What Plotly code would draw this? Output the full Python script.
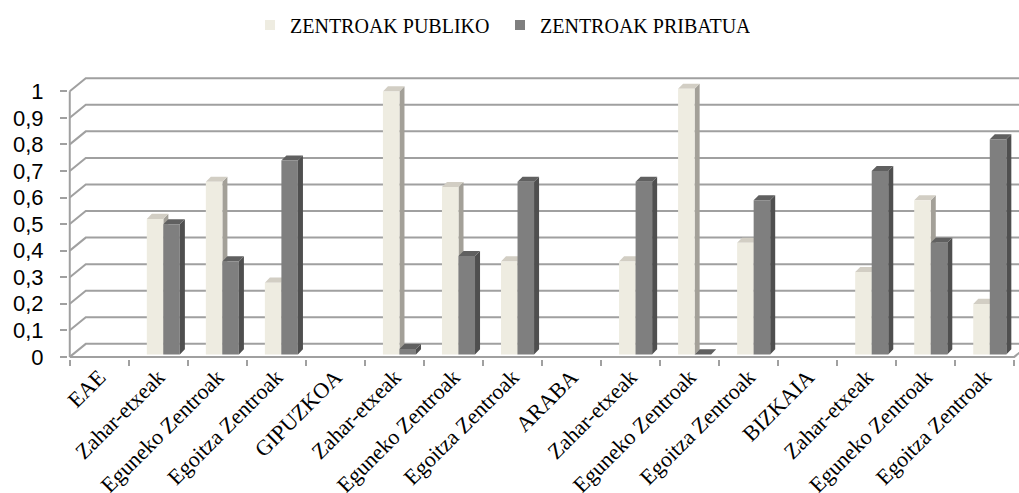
import plotly.graph_objects as go

# Categories along the x axis (region headers followed by centre types)
categories = [
    "EAE", "Zahar-etxeak", "Eguneko Zentroak", "Egoitza Zentroak",
    "GIPUZKOA", "Zahar-etxeak", "Eguneko Zentroak", "Egoitza Zentroak",
    "ARABA", "Zahar-etxeak", "Eguneko Zentroak", "Egoitza Zentroak",
    "BIZKAIA", "Zahar-etxeak", "Eguneko Zentroak", "Egoitza Zentroak",
]

# Share of public and private centres (None = region header, no bar)
publiko = [None, 0.51, 0.65, 0.27,
           None, 0.99, 0.63, 0.35,
           None, 0.35, 1.00, 0.42,
           None, 0.31, 0.58, 0.19]
pribatua = [None, 0.49, 0.35, 0.73,
            None, 0.02, 0.37, 0.65,
            None, 0.65, 0.00, 0.58,
            None, 0.69, 0.42, 0.81]

y_ticks = [0, 0.1, 0.2, 0.3, 0.4, 0.5, 0.6, 0.7, 0.8, 0.9, 1]
y_tick_labels = ["0", "0,1", "0,2", "0,3", "0,4", "0,5", "0,6", "0,7", "0,8", "0,9", "1"]

series_names = ["ZENTROAK PUBLIKO", "ZENTROAK PRIBATUA"]

# Pseudo-3D geometry in axis units
X_MIN, X_MAX = -0.53, 15.58
Y_MIN, Y_MAX = -0.008, 1.08
WALL_DX, WALL_DY = 0.271, 0.049      # depth of the back wall
BAR_SHIFT_X, BAR_BASE = 0.085, 0.0094  # bars sit slightly inside the floor
BAR_W = 0.28
BAR_DX, BAR_DY = 0.085, 0.019          # depth of each bar

# colours: front, side, top
PUB = ("#EEECE1", "#A3A098", "#D2CEC4")
PRIV = ("#7F7F7F", "#4F4F4F", "#606060")
GRID = "#A0A0A0"

n = len(categories)
fig = go.Figure()

# back wall gridlines with their diagonal side-wall connectors
gx, gy = [], []
for v in y_ticks:
    gx += [-0.5, -0.5 + WALL_DX, X_MAX + 1, None]
    gy += [v, v + WALL_DY, v + WALL_DY, None]
# front vertical axis, front floor edge and right floor edge
gx += [-0.5, -0.5, None, -0.5, n - 0.5, n - 0.5 + WALL_DX, None]
gy += [1, 0, None, 0, 0, WALL_DY, None]
fig.add_trace(go.Scatter(x=gx, y=gy, mode="lines", line=dict(color=GRID, width=2),
                         hoverinfo="skip", showlegend=False))


def faces(values, slot):
    front_x, front_y, side_x, side_y, top_x, top_y = [], [], [], [], [], []
    for i, v in enumerate(values):
        if v is None:
            continue
        xl = i + BAR_SHIFT_X - BAR_W + slot * BAR_W
        xr = xl + BAR_W
        yb, yt = BAR_BASE, BAR_BASE + v
        front_x += [xl, xr, xr, xl, xl, None]
        front_y += [yb, yb, yt, yt, yb, None]
        side_x += [xr, xr + BAR_DX, xr + BAR_DX, xr, xr, None]
        side_y += [yb, yb + BAR_DY, yt + BAR_DY, yt, yb, None]
        top_x += [xl, xr, xr + BAR_DX, xl + BAR_DX, xl, None]
        top_y += [yt, yt, yt + BAR_DY, yt + BAR_DY, yt, None]
    return (side_x, side_y), (top_x, top_y), (front_x, front_y)


for slot, (vals, cols) in enumerate([(publiko, PUB), (pribatua, PRIV)]):
    side, top, front = faces(vals, slot)
    for (xs, ys), col in [(side, cols[1]), (top, cols[2]), (front, cols[0])]:
        fig.add_trace(go.Scatter(x=xs, y=ys, mode="lines", fill="toself",
                                 fillcolor=col, line=dict(width=0, color=col),
                                 hoverinfo="skip", showlegend=False))

# legend entries
for name, col in zip(series_names, [PUB[0], PRIV[0]]):
    fig.add_trace(go.Scatter(x=[None], y=[None], mode="markers", name=name,
                             marker=dict(symbol="square", size=10, color=col)))

fig.update_layout(
    width=1019, height=493,
    margin=dict(l=68, r=0, t=70, b=134, autoexpand=False),
    paper_bgcolor="white", plot_bgcolor="white",
    showlegend=True,
    legend=dict(orientation="h", xref="container", yref="container",
                x=250 / 1019, xanchor="left", y=1 - 25 / 493, yanchor="middle",
                font=dict(family="Liberation Serif", size=20, color="black"),
                itemwidth=30, traceorder="normal",
                entrywidth=205, entrywidthmode="pixels"),
    xaxis=dict(range=[X_MIN, X_MAX], showgrid=False, zeroline=False, showline=False,
               automargin=False,
               tickmode="array", tickvals=list(range(n)), ticktext=categories,
               tickangle=-45, ticks="",
               tickfont=dict(family="Liberation Serif", size=22, color="black"),
               minor=dict(tickmode="array", tickvals=[i - 0.5 for i in range(n + 1)],
                          ticks="outside", ticklen=6, tickcolor=GRID, tickwidth=2,
                          showgrid=False)),
    yaxis=dict(range=[Y_MIN, Y_MAX], showgrid=False, zeroline=False, showline=False,
               automargin=False,
               tickmode="array", tickvals=y_ticks, ticktext=y_tick_labels,
               ticks="outside", ticklen=7, tickcolor=GRID, tickwidth=2,
               ticklabelstandoff=12,
               tickfont=dict(family="Liberation Sans", size=22, color="black")),
)

fig.write_html("out.html")
